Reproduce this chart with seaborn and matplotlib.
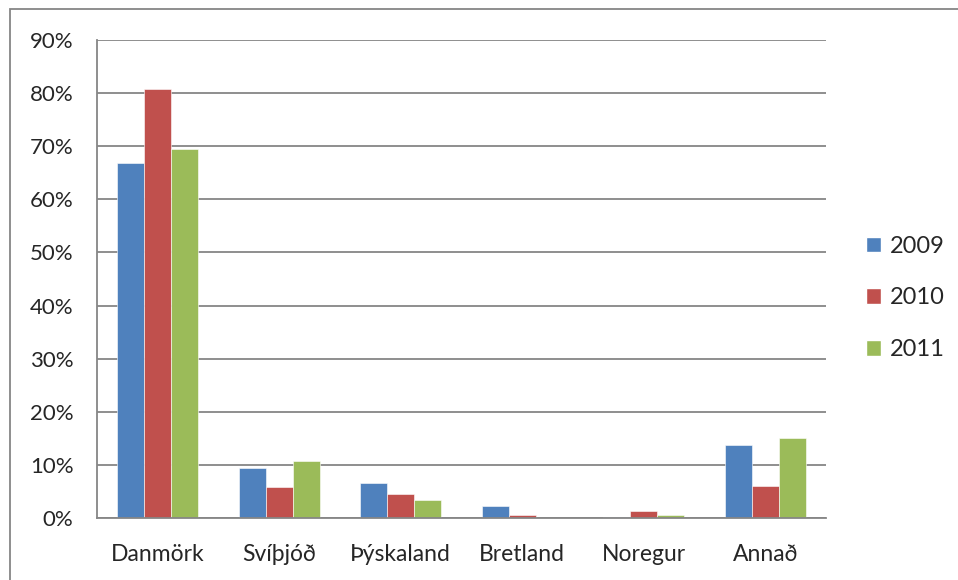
import matplotlib
matplotlib.use("Agg")
import matplotlib.pyplot as plt
from matplotlib.patches import Rectangle
from matplotlib.ticker import FixedLocator, PercentFormatter
import seaborn as sns
import pandas as pd
import numpy as np

# Data (share in %)
countries = ["Danmörk", "Svíþjóð", "Þýskaland", "Bretland", "Noregur", "Annað"]
years = ["2009", "2010", "2011"]
share_2009 = [66.9, 9.5, 6.5, 2.2, 0.1, 13.8]
share_2010 = [80.7, 5.8, 4.6, 0.5, 1.3, 6.1]
share_2011 = [69.5, 10.7, 3.4, 0.0, 0.5, 15.1]
colors = ["#4F81BD", "#C0504D", "#9BBB59"]

df = pd.DataFrame({
    "land": countries * 3,
    "ar": [y for y in years for _ in countries],
    "hlutfall": share_2009 + share_2010 + share_2011,
})

sns.set_style("white")
plt.rcParams["font.family"] = ["Lato", "DejaVu Sans"]
grid_color = "#868686"

fig = plt.figure(figsize=(9.58, 5.80), dpi=100)
ax = fig.add_axes([97 / 958, 1 - 518 / 580, (826 - 97) / 958, (518 - 40) / 580])

sns.barplot(data=df, x="land", y="hlutfall", hue="ar", palette=colors,
            width=0.667, gap=0, edgecolor="white", linewidth=0.4,
            saturation=1, ax=ax, legend=False)

ax.set_ylim(0, 90)
ax.set_xlim(-0.5, len(countries) - 0.5)
ax.set_yticks(np.arange(0, 91, 10))
ax.yaxis.set_major_formatter(PercentFormatter(decimals=0))
ax.set_axisbelow(True)
ax.yaxis.grid(True, color=grid_color, linewidth=1.3)
ax.set_xlabel("")
ax.set_ylabel("")

for side in ["top", "right"]:
    ax.spines[side].set_visible(False)
for side in ["left", "bottom"]:
    ax.spines[side].set_color(grid_color)
    ax.spines[side].set_linewidth(1.3)

# category labels at centres, tick marks at boundaries
ax.xaxis.set_minor_locator(FixedLocator(np.arange(-0.5, len(countries), 1)))
ax.tick_params(axis="x", which="major", length=0, pad=19, labelsize=16.5)
ax.tick_params(axis="x", which="minor", length=6, width=1.3, color=grid_color, direction="out")
ax.tick_params(axis="y", length=6, width=1.3, color=grid_color, direction="out",
               pad=11, labelsize=16)

# legend
handles = [Rectangle((0, 0), 1, 1, facecolor=c) for c in colors]
fig.legend(handles, years, loc="center left", bbox_to_anchor=(866 / 958, 1 - 298 / 580),
           frameon=False, fontsize=17, handlelength=0.65, handleheight=0.65,
           handletextpad=0.35, labelspacing=1.3, borderpad=0, borderaxespad=0)

# outer chart frame (partly cut off at right and bottom)
fig.patches.append(Rectangle((10 / 958, -0.1), 1.1, 1.1 - 9.5 / 580,
                             transform=fig.transFigure, fill=False,
                             edgecolor=grid_color, linewidth=1.3))

fig.savefig("out.png", dpi=100)
